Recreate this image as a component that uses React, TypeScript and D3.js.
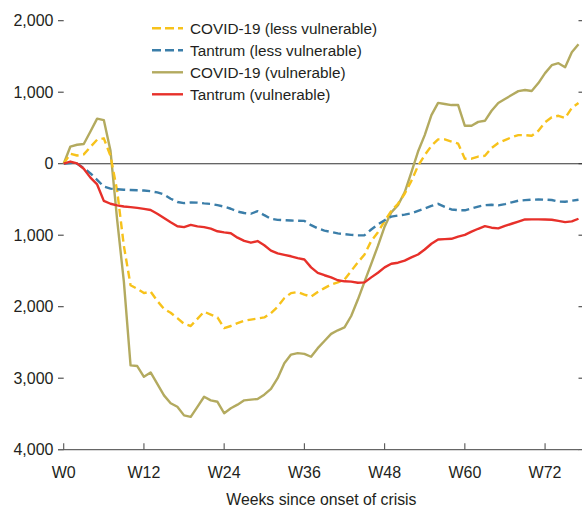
import React from "react";
import * as d3 from "d3";

const covidVulnerable = [
  0, 240, 265, 275, 450, 630, 610, 180, -790, -1650,
  -2820, -2830, -2980, -2920, -3080, -3240, -3350, -3400, -3520, -3540,
  -3400, -3260, -3310, -3330, -3490, -3420, -3370, -3310, -3300, -3290,
  -3230, -3150, -3000, -2790, -2670, -2650, -2660, -2700, -2580, -2480,
  -2380, -2330, -2290, -2130, -1900, -1650, -1400, -1150, -880, -680,
  -580, -400, -120, 170, 400, 680, 850, 835, 820, 820,
  530, 530, 585, 600, 740, 850, 905, 960, 1015, 1030,
  1016, 1128, 1267, 1378, 1406, 1350, 1559, 1671,
];

const covidLessVulnerable = [
  0, 140, 115, 130, 235, 335, 355, 110, -380, -1150,
  -1700, -1750, -1810, -1790, -1920, -2030, -2085, -2160, -2240, -2270,
  -2170, -2070, -2110, -2150, -2300, -2270, -2230, -2195, -2180, -2165,
  -2150, -2090, -2000, -1880, -1810, -1795, -1830, -1860, -1795, -1740,
  -1690, -1660, -1620, -1500, -1380, -1270, -1080, -960, -800, -660,
  -560, -420, -240, -30, 120, 250, 340, 340, 310, 280,
  70, 70, 100, 110, 220, 290, 330, 370, 400, 400,
  390, 460, 580, 650, 670, 640, 780, 850,
];

const tantrumLessVulnerable = [
  0, 10, 0, -60, -135, -225, -320, -348, -358, -364,
  -368, -372, -375, -385, -402, -430, -490, -535, -552, -542,
  -545, -555, -562, -580, -600, -630, -670, -690, -700, -665,
  -720, -770, -785, -790, -795, -798, -800, -860, -905, -935,
  -955, -975, -985, -995, -1002, -1000, -920, -850, -790, -740,
  -725, -712, -695, -660, -625, -590, -561, -605, -640, -650,
  -652, -625, -600, -580, -575, -583, -565, -540, -518, -510,
  -503, -501, -503, -508, -530, -532, -518, -505,
];

const tantrumVulnerable = [
  0, 30, 5, -70, -195, -290, -520, -560, -582, -598,
  -608, -618, -632, -648, -700, -760, -820, -875, -887, -855,
  -877, -887, -909, -945, -960, -972, -1034, -1080, -1105, -1082,
  -1140, -1215, -1255, -1275, -1295, -1320, -1340, -1450, -1527, -1560,
  -1590, -1630, -1645, -1650, -1665, -1660, -1590, -1525, -1450, -1400,
  -1385, -1355, -1310, -1270, -1200, -1120, -1060, -1055, -1050, -1020,
  -995, -950, -910, -873, -895, -905, -870, -840, -810, -780,
  -779, -779, -780, -784, -800, -817, -807, -770,
];

const xTickWeeks = [0, 12, 24, 36, 48, 60, 72];
const xTickLabels = ["W0", "W12", "W24", "W36", "W48", "W60", "W72"];
const yTickValues = [2000, 1000, 0, -1000, -2000, -3000, -4000];
const yTickLabels = ["2,000", "1,000", "0", "1,000", "2,000", "3,000", "4,000"];
const xTitle = "Weeks since onset of crisis";

const seriesNames = [
  "COVID-19 (less vulnerable)",
  "Tantrum (less vulnerable)",
  "COVID-19 (vulnerable)",
  "Tantrum (vulnerable)",
];

const W = 582;
const H = 508;
const FONT = "'Liberation Sans', Arial, Helvetica, sans-serif";

export default function App() {
  const lastWeek = covidVulnerable.length - 1;
  const x = d3.scaleLinear().domain([0, lastWeek]).range([63.7, 578.5]);
  const y = d3.scaleLinear().domain([-4000, 2000]).range([449.7, 20.7]);

  const line = d3
    .line<number>()
    .x((_, i) => x(i))
    .y((d) => y(d))
    .curve(d3.curveLinear);

  const series = [
    { name: seriesNames[0], data: covidLessVulnerable, color: "#f7c21b", dash: "8,4.5" },
    { name: seriesNames[1], data: tantrumLessVulnerable, color: "#3b7ea9", dash: "8,4.5" },
    { name: seriesNames[2], data: covidVulnerable, color: "#b3aa5f", dash: null },
    { name: seriesNames[3], data: tantrumVulnerable, color: "#e7302a", dash: null },
  ];

  const drawOrder = [2, 0, 1, 3];

  return (
    <svg
      width={W}
      height={H}
      style={{ position: "absolute", left: 0, top: 0, background: "#fff" }}
      fontFamily={FONT}
    >
      {/* y ticks left */}
      {yTickValues.map((v, i) => (
        <g key={"yt" + i}>
          <line x1={58} x2={63.7} y1={y(v)} y2={y(v)} stroke="#444" strokeWidth={1.1} />
          <line x1={578.5} x2={582} y1={y(v)} y2={y(v)} stroke="#444" strokeWidth={1.1} />
          <text
            x={53.5}
            y={y(v)}
            dy="0.36em"
            textAnchor="end"
            fontSize={16}
            fill="#231f20"
          >
            {yTickLabels[i]}
          </text>
        </g>
      ))}

      {/* zero line */}
      <line x1={63.7} x2={582} y1={y(0)} y2={y(0)} stroke="#333" strokeWidth={1.1} />

      {/* x axis */}
      <line x1={58} x2={579} y1={y(-4000)} y2={y(-4000)} stroke="#666" strokeWidth={1.3} />
      {xTickWeeks.map((w, i) => (
        <g key={"xt" + i}>
          <line x1={x(w)} x2={x(w)} y1={y(-4000)} y2={y(-4000) - 6.5} stroke="#555" strokeWidth={1.1} />
          <text x={x(w)} y={478} textAnchor="middle" fontSize={16} fill="#231f20">
            {xTickLabels[i]}
          </text>
        </g>
      ))}
      <text x={x(36) + 17} y={505} textAnchor="middle" fontSize={15.8} fill="#231f20">
        {xTitle}
      </text>

      {/* series */}
      {drawOrder.map((k) => {
        const s = series[k];
        return (
          <path
            key={s.name}
            d={line(s.data) || ""}
            fill="none"
            stroke={s.color}
            strokeWidth={2.4}
            strokeDasharray={s.dash || undefined}
            strokeLinejoin="round"
          />
        );
      })}

      {/* legend */}
      {series.map((s, i) => {
        const ly = 28.3 + i * 22;
        return (
          <g key={"lg" + i}>
            <line
              x1={152}
              x2={183}
              y1={ly}
              y2={ly}
              stroke={s.color}
              strokeWidth={2.4}
              strokeDasharray={s.dash ? "9,4" : undefined}
            />
            <text x={190} y={ly} dy="0.36em" fontSize={15.3} fill="#231f20">
              {s.name}
            </text>
          </g>
        );
      })}
    </svg>
  );
}
